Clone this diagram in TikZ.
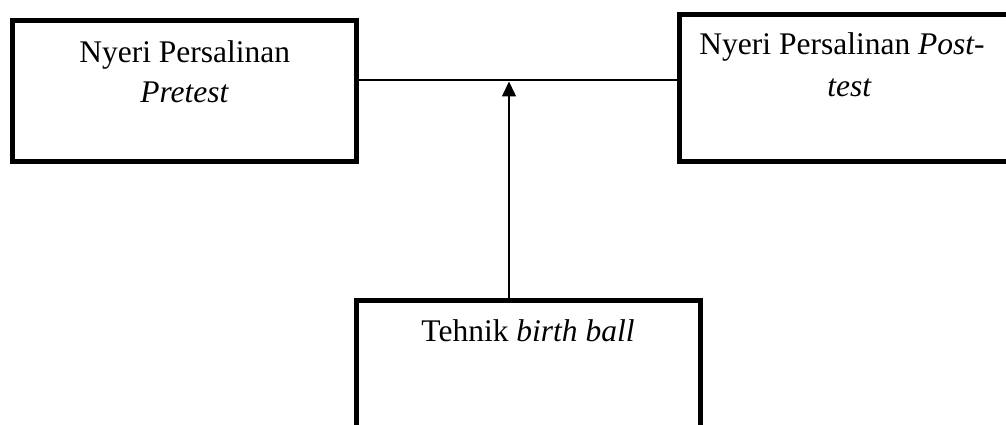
\documentclass[tikz,border=0pt]{standalone}
\usepackage{fontspec}
\setmainfont{Liberation Serif}
\usetikzlibrary{arrows.meta}
\begin{document}
\begin{tikzpicture}[x=1pt,y=-1pt,
  box/.style={draw,line width=5pt,inner sep=0pt},
  txt/.style={font=\fontsize{31.5}{40}\selectfont,inner sep=0pt,anchor=base},
  link/.style={line width=1.5pt}]
\useasboundingbox (0,0) rectangle (1006,425);
\clip (0,0) rectangle (1006,425);
\node[box,minimum width=344.3pt,minimum height=140.7pt] (L) at (184.65,91.15) {};
\node[box,minimum width=334pt,minimum height=146.5pt] (R) at (846,88.25) {};
\node[box,minimum width=344pt,minimum height=170pt] (B) at (528.5,385) {};
\node[txt] (l1) at (184.7,63) {Nyeri Persalinan};
\node[txt] (l2) at (184.7,103) {\textit{Pretest}};
\node[txt] (r1) at (842,55) {Nyeri Persalinan \textit{Post-}};
\node[txt] (r2) at (849.5,97) {\textit{test}};
\node[txt] (b1) at (528,341) {Tehnik \textit{birth ball}};
\coordinate (H) at (0,80);
\coordinate (J) at (509,81.5);
\draw[link] (L.east |- H) -- (R.west |- H);
\draw[link,-{Triangle[length=15pt,width=14pt]}] (J |- B.north) -- (J);
\end{tikzpicture}
\end{document}
